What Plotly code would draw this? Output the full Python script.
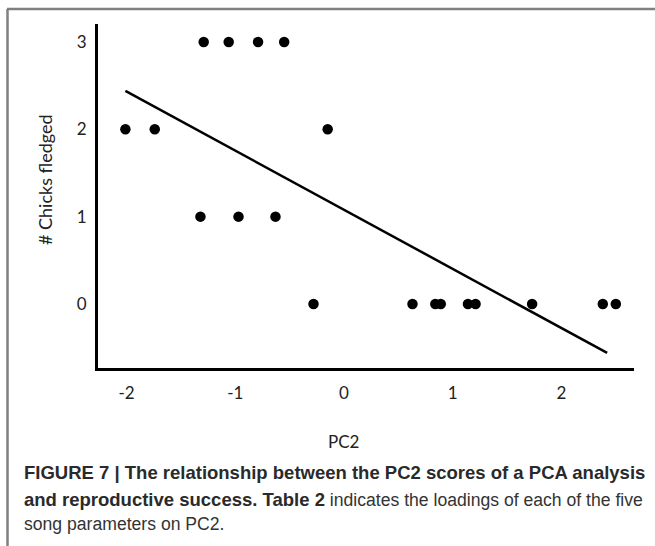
import plotly.graph_objects as go

# Data
pc2_scores = [-1.29, -1.06, -0.79, -0.55,
              -2.01, -1.74, -0.15,
              -1.32, -0.97, -0.63,
              -0.28, 0.63, 0.84, 0.89, 1.14, 1.21, 1.73, 2.38, 2.50]
chicks_fledged = [3, 3, 3, 3,
                  2, 2, 2,
                  1, 1, 1,
                  0, 0, 0, 0, 0, 0, 0, 0, 0]
trend_x = [-2.01, 2.42]
trend_y = [2.44, -0.56]
x_ticks = [-2, -1, 0, 1, 2]
x_tick_labels = ["-2", "-1", "0", "1", "2"]
y_ticks = [0, 1, 2, 3]
y_tick_labels = ["0", "1", "2", "3"]
x_title = "PC2"
y_title = "# Chicks fledged"
caption_lines = [
    "<b>FIGURE 7 | The relationship between the PC2 scores of a PCA analysis</b>",
    "<b>and reproductive success. Table 2</b><span style='font-size:17.6px;color:#333'> indicates the loadings of each of the five</span>",
    "<span style='font-size:17.6px;color:#333'>song parameters on PC2.</span>",
]

W, H = 655, 546
L, R, T, B = 98, 21, 24, 178
PW, PH = W - L - R, H - T - B


def px_x(px):
    return (px - L) / PW


def px_y(py):
    return (H - B - py) / PH


fig = go.Figure()
fig.add_trace(go.Scatter(x=trend_x, y=trend_y, mode="lines",
                         line=dict(color="black", width=2.5),
                         showlegend=False, hoverinfo="skip"))
fig.add_trace(go.Scatter(x=pc2_scores, y=chicks_fledged, mode="markers",
                         marker=dict(color="black", size=10.5),
                         showlegend=False))

tick_font = dict(family="Lato, Carlito, sans-serif", size=17, color="#222")
title_font = dict(family="Lato, Carlito, sans-serif", size=18, color="#222")

fig.update_layout(
    width=W, height=H,
    margin=dict(l=L, r=R, t=T, b=B, pad=0),
    paper_bgcolor="white", plot_bgcolor="white",
    xaxis=dict(range=[-2.262, 2.667], tickvals=x_ticks, ticktext=x_tick_labels,
               showgrid=False, tickangle=0,
               zeroline=False, showline=True, linecolor="black", linewidth=3,
               ticks="", tickfont=tick_font, ticklabelstandoff=8),
    yaxis=dict(range=[-0.733, 3.206], tickvals=y_ticks, ticktext=y_tick_labels,
               showgrid=False, tickangle=0,
               zeroline=False, showline=True, linecolor="black", linewidth=3,
               ticks="", tickfont=tick_font, ticklabelstandoff=5),
)

# Axis titles placed where the reference shows them
fig.add_annotation(text=x_title, xref="x", yref="paper", x=0, y=px_y(441),
                   xanchor="center", yanchor="middle", showarrow=False,
                   font=tick_font)
fig.add_annotation(text=y_title, xref="paper", yref="paper", x=px_x(45),
                   y=px_y(180), xanchor="center", yanchor="middle",
                   showarrow=False, textangle=-90, font=title_font)

# Figure frame (gray border on top and left)
fig.add_shape(type="line", xref="paper", yref="paper", layer="above",
              x0=px_x(7), x1=px_x(655), y0=px_y(9), y1=px_y(9),
              line=dict(color="#808080", width=2.5))
fig.add_shape(type="line", xref="paper", yref="paper", layer="above",
              x0=px_x(7.5), x1=px_x(7.5), y0=px_y(9), y1=px_y(546),
              line=dict(color="#808080", width=2.5))

cap_y = [473, 499, 524]
for txt, cy in zip(caption_lines, cap_y):
    fig.add_annotation(text=txt, xref="paper", yref="paper",
                       x=px_x(22), y=px_y(cy), xanchor="left", yanchor="middle",
                       showarrow=False,
                       font=dict(family="Liberation Sans, Arial, sans-serif",
                                 size=18.5, color="#2a2a2a"))

fig.write_html("out.html")
